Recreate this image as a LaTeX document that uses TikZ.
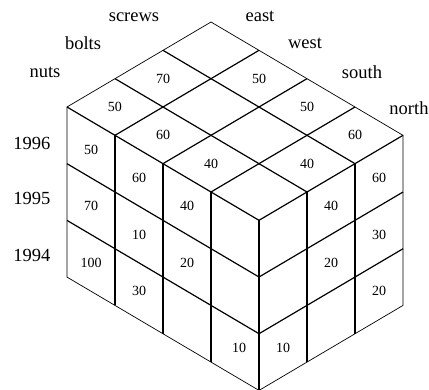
\documentclass[tikz,border=0pt]{standalone}
\usepackage{fontspec}
\setmainfont{Liberation Serif}
\tikzset{
  grid line/.style={line width=1.2pt},
  edge line/.style={line width=0.7pt},
  cell/.style={font=\fontsize{14}{16}\selectfont,inner sep=0pt},
  dimlabel/.style={font=\fontsize{18.5}{21}\selectfont,inner sep=0pt}
}
\begin{document}
\begin{tikzpicture}[x={(48pt,28.33pt)},y={(48pt,-28.33pt)},z={(0pt,-56.7pt)}]
      \useasboundingbox (-67pt,107pt) rectangle (362pt,-283pt);
      % top face (1996)
      \foreach \i in {1,2} \draw[grid line] (\i,0,0) -- (\i,4,0);
      \foreach \j in {1,...,4} \draw[grid line] (0,\j,0) -- (3,\j,0);
      % front face (nuts)
      \foreach \j in {1,...,4} \draw[grid line] (0,\j,0) -- (0,\j,3);
      \foreach \k in {0,1,2} \draw[grid line] (0,0,\k) -- (0,4,\k);
      % right face (north)
      \foreach \i in {1,2} \draw[grid line] (\i,4,0) -- (\i,4,3);
      \foreach \k in {1,2} \draw[grid line] (0,4,\k) -- (3,4,\k);
      \draw[edge line] (0,0,0) -- (3,0,0) -- (3,4,0) -- (3,4,3) -- (0,4,3) -- (0,0,3) -- cycle;
      % values
      \foreach \i/\j/\v in {0/0/50,1/0/70,0/1/60,2/1/50,0/2/40,2/2/50,1/3/40,2/3/60}
        \node[cell] (top-\i-\j) at (\i+.5,\j+.5,0) {\v};
      \foreach \j/\k/\v in {0/0/50,1/0/60,2/0/40,0/1/70,1/1/10,2/1/20,0/2/100,1/2/30}
        \node[cell] (front-\j-\k) at (0,\j+.5,\k+.5) {\v};
      \node[cell,xshift=4pt] (front-3-2) at (0,3.5,2.5) {10};
      \foreach \i/\k/\v in {1/0/40,2/0/60,1/1/20,2/1/30,2/2/20,0/2/10}
        \node[cell] (right-\i-\k) at (\i+.5,4,\k+.5) {\v};
      % dimension labels
      \node[dimlabel] (nuts) at (-22pt,35pt) {nuts};
      \node[dimlabel] (bolts) at (16pt,64pt) {bolts};
      \node[dimlabel] (screws) at (67pt,90pt) {screws};
      \node[dimlabel] (east) at (193pt,91pt) {east};
      \node[dimlabel] (west) at (238pt,64pt) {west};
      \node[dimlabel] (south) at (295pt,35pt) {south};
      \node[dimlabel] (north) at (342pt,-1pt) {north};
      \node[dimlabel] (y1996) at (-35pt,-36pt) {1996};
      \node[dimlabel] (y1995) at (-35pt,-91pt) {1995};
      \node[dimlabel] (y1994) at (-35pt,-148pt) {1994};
    \end{tikzpicture}
\end{document}
